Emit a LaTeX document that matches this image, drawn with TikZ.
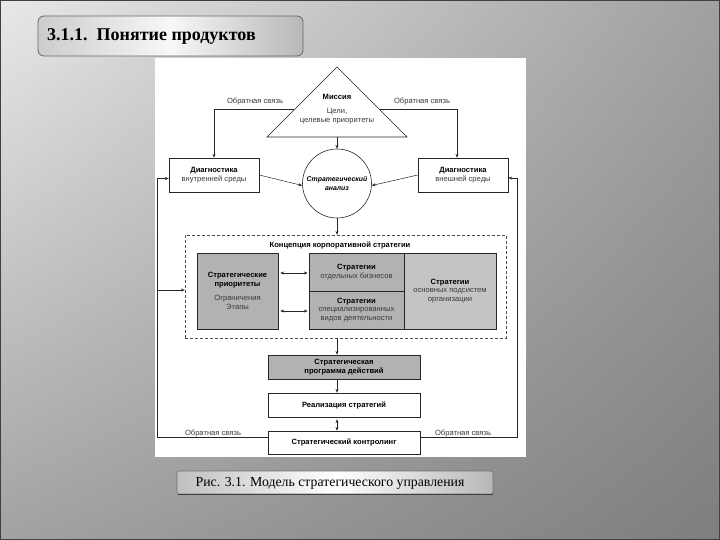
\documentclass[tikz,border=0pt]{standalone}
\usepackage{fontspec}
\setmainfont{Liberation Serif}
\newfontfamily\dsans{Liberation Sans}
\usetikzlibrary{arrows.meta,calc,shadings}
\definecolor{bgul}{HTML}{E8E8E8}
\definecolor{bgur}{HTML}{A0A0A0}
\definecolor{bgll}{HTML}{A2A2A2}
\definecolor{bglr}{HTML}{7E7E7E}
\definecolor{gfill}{HTML}{B2B2B2}
\definecolor{gfilll}{HTML}{C4C4C4}
\definecolor{ink}{HTML}{3A3A3A}
\begin{document}
\begin{tikzpicture}[x=1pt,y=-1pt,
  dfont/.style={font=\dsans\fontsize{7.6}{8.6}\selectfont},
  bfont/.style={font=\dsans\bfseries\fontsize{7.6}{8.6}\selectfont},
  box/.style={dfont, draw=black!85, line width=0.6pt, fill=white, align=center, text=ink, inner sep=1pt},
  gbox/.style={box, fill=gfill},
  lbl/.style={dfont, text=ink, inner sep=0pt},
  arr/.style={draw=black!85, line width=0.5pt, -{Stealth[length=3.8pt,width=3pt]}},
  darr/.style={draw=black!85, line width=0.5pt, {Stealth[length=3.8pt,width=3pt]}-{Stealth[length=3.8pt,width=3pt]}},
  ln/.style={draw=black!85, line width=0.5pt}
]
\useasboundingbox (0,0) rectangle (720,540);
% background
\shade[upper left=bgul, upper right=bgur, lower left=bgll, lower right=bglr] (0,0) rectangle (720,540);
\draw[black!75, line width=1.2pt] (0.6,0.6) rectangle (719.4,539.4);

% title box
\shade[rounded corners=6pt, left color=black!20, right color=black!28, middle color=black!3]
  (38,16) rectangle (303,56);
\draw[rounded corners=6pt, black!60, line width=0.8pt] (38,16) rectangle (303,56);
\node[anchor=west, font=\bfseries\fontsize{18}{21}\selectfont, inner sep=0pt] (title) at (47,36.5) {3.1.1.\ \ Понятие продуктов};

% white panel
\fill[white] (155,58) rectangle (526,457);

% triangle
\coordinate (apex) at (337,67);
\coordinate (bl) at (267,137);
\coordinate (br) at (407,137);
\draw[black!85, line width=0.6pt, fill=white] (apex) -- (bl) -- (br) -- cycle;
\node[lbl, bfont, text=black] (mis) at (337,97) {Миссия};
\node[lbl, align=center] (goals) at (337,116) {Цели,\\целевые приоритеты};
\coordinate (tbase) at (337,137);
\coordinate (lside) at ($(apex)!0.61!(bl)$);
\coordinate (rside) at ($(apex)!0.61!(br)$);

% diagnostics
\node[box, minimum width=90pt, minimum height=34pt] (lb) at (214,175)
  {{\bfseries\color{black}Диагностика}\\внутренней среды};
\node[box, minimum width=90pt, minimum height=34pt] (rb) at (463,175)
  {{\bfseries\color{black}Диагностика}\\внешней среды};
\node[box, circle, minimum size=69pt, inner sep=0pt, font=\dsans\bfseries\itshape\fontsize{6.9}{8.8}\selectfont, text=black] (ca) at (337,183.5)
  {Стратегический\\анализ};

\draw[arr] (tbase) -- (ca.north);
\draw[arr] (lside) -| (lb.north);
\draw[arr] (rside) -| ([xshift=-6pt]rb.north);
\node[lbl] (fbl) at (255,102) {Обратная связь};
\node[lbl] (fbr) at (422,102) {Обратная связь};
\draw[arr] (lb.east) -- ([yshift=-2pt]ca.west);
\draw[arr] (rb.west) -- ([yshift=-2pt]ca.east);

% concept dashed box
\node[draw=black!70, dash pattern=on 3pt off 2pt, line width=0.5pt, minimum width=321pt, minimum height=103pt, inner sep=0pt] (dash) at (345.5,286.5) {};
\node[lbl, bfont, text=black] (ctitle) at (340,245) {Концепция корпоративной стратегии};
\draw[arr] (ca.south) -- (ca.south |- dash.north);

\node[gbox, minimum width=81pt, minimum height=76pt] (gp) at (237.5,291)
  {{\bfseries\color{black}Стратегические}\\{\bfseries\color{black}приоритеты}\\[6pt]Ограничения\\Этапы};
\node[gbox, minimum width=95pt, minimum height=38pt] (mu) at (356.5,272)
  {{\bfseries\color{black}Стратегии}\\отдельных бизнесов};
\node[gbox, minimum width=95pt, minimum height=38pt] (ml) at (356.5,310)
  {{\bfseries\color{black}Стратегии}\\специализированных\\видов деятельности};
\node[gbox, fill=gfilll, minimum width=92pt, minimum height=76pt] (rs) at (450,291)
  {{\bfseries\color{black}Стратегии}\\основных подсистем\\организации};
\draw[darr, shorten <=2pt, shorten >=1pt] ([yshift=-1pt]gp.east |- mu.west) -- ([yshift=-1pt]mu.west);
\draw[darr, shorten <=2pt, shorten >=1pt] ([yshift=-1pt]gp.east |- ml.west) -- ([yshift=-1pt]ml.west);

% lower chain
\node[gbox, bfont, text=black, minimum width=152pt, minimum height=24pt] (prog) at (344,367)
  {Стратегическая\\программа действий};
\node[box, bfont, text=black, minimum width=152pt, minimum height=24pt] (real) at (344,405)
  {Реализация стратегий};
\node[box, bfont, text=black, minimum width=152pt, minimum height=23pt] (ctrl) at (344,442.5)
  {Стратегический контролинг};
\draw[arr] (ca.south |- dash.south) -- (ca.south |- prog.north);
\draw[arr] (ca.south |- prog.south) -- (ca.south |- real.north);
\draw[darr, shorten <=2pt] (ca.south |- real.south) -- (ca.south |- ctrl.north);

% feedback loops
\coordinate (lx) at (157,0);
\coordinate (rx) at (517,0);
\coordinate (lw) at ([yshift=-3.5pt]lb.west);
\coordinate (dw) at ([yshift=-3.5pt]dash.west);
\coordinate (re) at ([yshift=-3pt]rb.east);
\draw[ln] ([yshift=5pt]ctrl.west) -| (lw -| lx);
\draw[arr] (lw -| lx) -- (lw);
\draw[arr] (dw -| lx) -- (dw);
\draw[ln] ([yshift=5pt]ctrl.east) -| (re -| rx);
\draw[arr] (re -| rx) -- (re);
\node[lbl] (fbl2) at (213,433) {Обратная связь};
\node[lbl] (fbr2) at (463,433) {Обратная связь};

% caption
\shade[rounded corners=2pt, left color=black!25, right color=black!28, middle color=white] (177,471) rectangle (493,494);
\draw[rounded corners=2pt, black!55, line width=0.6pt] (177,471) rectangle (493,494);
\draw[black!75, line width=1pt] (178,494.5) -- (493,494.5);
\node[font=\fontsize{13.8}{16}\selectfont, inner sep=0pt] (cap) at (330,483.5) {Рис. 3.1. Модель стратегического управления};
\end{tikzpicture}
\end{document}
